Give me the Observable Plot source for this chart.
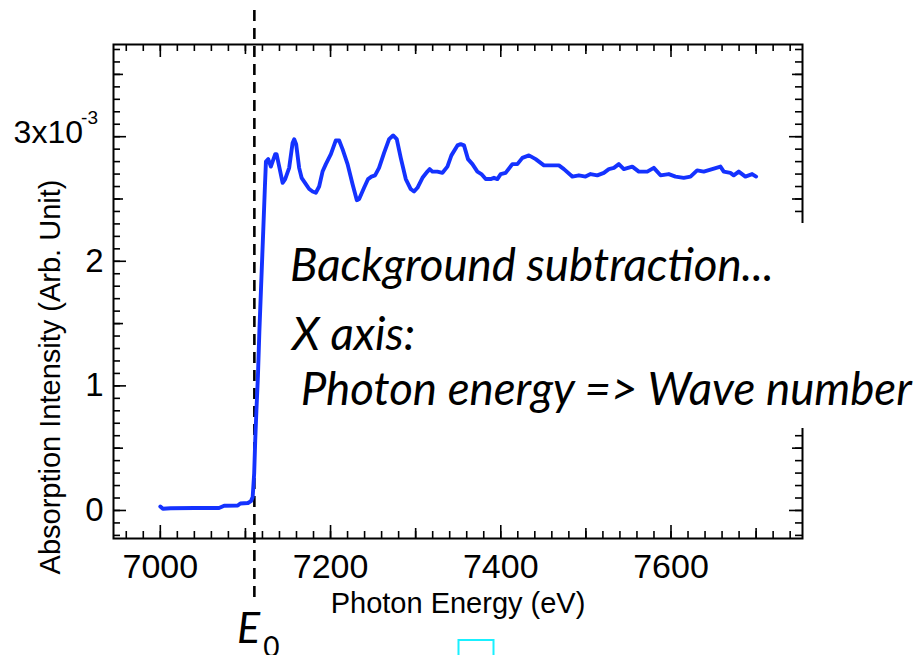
<!DOCTYPE html>
<html>
<head>
<meta charset="utf-8">
<script src="https://cdn.jsdelivr.net/npm/d3@7"></script>
<script src="https://cdn.jsdelivr.net/npm/@observablehq/plot@0.6"></script>
<style>
  html, body { margin: 0; padding: 0; background: #fff; }
  #wrap { position: relative; width: 919px; height: 655px; overflow: hidden; }
  #wrap svg { position: absolute; left: 0; top: 0; }
</style>
</head>
<body>
<div id="wrap"></div>
<script>
// ---------------- data ----------------
const energy = [
  7000, 7003, 7012, 7040, 7069, 7075, 7091, 7094, 7103, 7106.5, 7108.5, 7110.3, 7111.5,
  7112.9, 7114.7, 7116.4, 7118.2, 7120.9, 7122.9, 7124.1, 7126.8, 7129.9, 7135.0, 7136.6,
  7139.7, 7143.7, 7146.7, 7151.4, 7155.4, 7157.3, 7159.6, 7163.1, 7166.0, 7171.0, 7174.9,
  7178.9, 7182.7, 7186.6, 7190.6, 7194.5, 7200.4, 7206.2, 7210.1, 7214.1, 7220.0, 7225.8,
  7230.9, 7233.6, 7239.4, 7244.1, 7248.1, 7252.3, 7257.0, 7262.9, 7268.8, 7273.5, 7277.8,
  7282.5, 7288.4, 7294.2, 7298.1, 7302.1, 7308.0, 7313.8, 7316.5, 7319.7, 7325.6, 7331.5,
  7337.3, 7342.0, 7349.1, 7352.9, 7356.8, 7361.5, 7366.7, 7372.5, 7377.2, 7382.3, 7388.1,
  7392.0, 7396.0, 7399.9, 7405.7, 7413.6, 7419.5, 7425.4, 7433.1, 7441.0, 7450.7, 7458.6,
  7468.3, 7474.2, 7484.0, 7491.8, 7499.6, 7505.5, 7513.4, 7521.1, 7527.0, 7532.9, 7538.7,
  7544.6, 7554.5, 7562.2, 7572.1, 7579.8, 7587.7, 7597.4, 7605.3, 7615.0, 7622.9, 7630.7,
  7638.5, 7648.4, 7658.1, 7662.0, 7669.8, 7673.7, 7679.6, 7687.4, 7695.3, 7700.0
];
// absorption intensity in units of 1e-3
const absorption = [
  0.032, 0.014, 0.018, 0.020, 0.020, 0.038, 0.040, 0.056, 0.060, 0.075, 0.107, 0.30, 0.56,
  0.80, 1.08, 1.44, 1.76, 2.24, 2.60, 2.80, 2.82, 2.76, 2.86, 2.86,
  2.76, 2.63, 2.66, 2.75, 2.95, 2.98, 2.94, 2.75, 2.67, 2.62, 2.58,
  2.56, 2.55, 2.60, 2.72, 2.78, 2.86, 2.97, 2.97, 2.90, 2.78, 2.62,
  2.49, 2.50, 2.59, 2.66, 2.68, 2.69, 2.75, 2.87, 2.98, 3.01, 2.98,
  2.83, 2.66, 2.58, 2.56, 2.59, 2.67, 2.72, 2.74, 2.72, 2.72, 2.71,
  2.76, 2.85, 2.93, 2.94, 2.93, 2.82, 2.78, 2.72, 2.70, 2.66, 2.66,
  2.67, 2.66, 2.70, 2.71, 2.78, 2.78, 2.83, 2.85, 2.82, 2.77, 2.77,
  2.77, 2.74, 2.68, 2.69, 2.68, 2.70, 2.69, 2.71, 2.74, 2.75, 2.78,
  2.74, 2.76, 2.72, 2.72, 2.75, 2.69, 2.70, 2.68, 2.67, 2.68, 2.73,
  2.72, 2.74, 2.76, 2.72, 2.71, 2.69, 2.72, 2.68, 2.70, 2.68
];
const edgeEnergy = [7110.5];           // E0 marker
const xDomain = [6945, 7754.5];
const yDomain = [-0.225, 3.74];
const xTickLabels = [7000, 7200, 7400, 7600];
const xTicksMid = [7100, 7300, 7500, 7700];
const xTicksMinor = d3.range(6960, 7750, 20);
const yTickLabels = [0, 1, 2];
const yTopTick = [3];
const yTicksMajor = [0, 1, 2, 3];
const yTicksMid = [0.5, 1.5, 2.5, 3.5];
const yTicksMinor = d3.range(-0.2, 3.75, 0.1).map(v => Math.round(v * 10) / 10);
const xLabel = "Photon Energy (eV)";
const yLabel = "Absorption Intensity (Arb. Unit)";
const noteLines = ["Background subtraction...", "X axis:", " Photon energy => Wave number"];

// ---------------- layout ----------------
const W = 919, H = 655;
const mL = 113, mR = 117, mT = 44, mB = 117;
const fW = W - mL - mR, fH = H - mT - mB;
const data = energy.map((e, i) => ({e, a: absorption[i]}));
const tickW = 1.6;

function xTicks(values, len) {
  return [
    Plot.tickX(values, {x: d => d, insetBottom: fH - len, stroke: "black", strokeWidth: tickW}),
    Plot.tickX(values, {x: d => d, insetTop: fH - len, stroke: "black", strokeWidth: tickW})
  ];
}
function yTicks(values, len) {
  return [
    Plot.tickY(values, {y: d => d, insetRight: fW - len, stroke: "black", strokeWidth: tickW}),
    Plot.tickY(values, {y: d => d, insetLeft: fW - len, stroke: "black", strokeWidth: tickW})
  ];
}

const chart = Plot.plot({
  width: W, height: H,
  marginLeft: mL, marginRight: mR, marginTop: mT, marginBottom: mB,
  style: {fontFamily: "'Liberation Sans', Arial, Helvetica, sans-serif", background: "transparent", overflow: "visible", color: "black"},
  x: {domain: xDomain},
  y: {domain: yDomain},
  marks: [
    Plot.ruleX(edgeEnergy, {x: d => d, stroke: "black", strokeWidth: 2.6, strokeDasharray: "11,7", insetTop: -34, insetBottom: -60}),
    Plot.line(data, {x: "e", y: "a", stroke: "#1432ff", strokeWidth: 3.9, strokeLinejoin: "round", strokeLinecap: "round"}),
    ...xTicks(xTicksMinor, 7),
    ...xTicks(xTicksMid, 10),
    ...xTicks(xTickLabels, 13),
    ...yTicks(yTicksMinor, 7),
    ...yTicks(yTicksMid, 10),
    ...yTicks(yTicksMajor, 13),
    Plot.frame({stroke: "black", strokeWidth: 2}),
    Plot.axisX({ticks: xTickLabels, tickFormat: d => String(d), anchor: "bottom", tickSize: 0, tickPadding: 15, fontSize: 34, label: null}),
    Plot.axisY({ticks: yTickLabels, tickFormat: d => String(d), anchor: "left", tickSize: 0, tickPadding: 10, fontSize: 33, label: null}),
    Plot.text(yTopTick, {y: d => d, frameAnchor: "left", text: () => "3x10", textAnchor: "end", dx: -30.5, dy: -3.5, lineAnchor: "middle", fontSize: 32}),
    Plot.text(yTopTick, {y: d => d, frameAnchor: "left", text: () => "-3", textAnchor: "end", dx: -15.5, dy: -18.5, lineAnchor: "middle", fontSize: 19}),
    Plot.text([xLabel], {text: d => d, frameAnchor: "bottom", textAnchor: "middle", dy: 65, lineAnchor: "middle", fontSize: 29}),
    Plot.text([yLabel], {text: d => d, frameAnchor: "left", textAnchor: "middle", rotate: -90, dx: -62.5, dy: 85.5, lineAnchor: "middle", fontSize: 29})
  ]
});
const wrap = document.getElementById("wrap");
wrap.appendChild(chart);

// ---------------- annotation overlay ----------------
const ov = d3.select(wrap).append("svg")
  .attr("width", W).attr("height", H)
  .style("font-family", "Lato, 'Open Sans', 'Noto Sans', sans-serif");
ov.append("rect").attr("x", 278).attr("y", 223).attr("width", 641).attr("height", 205).attr("fill", "white");
const noteX = [290, 292, 290], noteY = [281, 350, 405];
const texts = noteLines.map((t, i) => ov.append("text")
  .attr("x", noteX[i]).attr("y", noteY[i])
  .attr("font-style", "italic").attr("font-size", 40)
  .attr("xml:space", "preserve").style("white-space", "pre")
  .text(t));
// fit the long line to the reference width
const w3 = texts[2].node().getComputedTextLength();
const fs = 40 * (912 - 290) / w3;
texts.forEach(t => t.attr("font-size", fs));

const e0 = ov.append("text").attr("x", 237).attr("y", 643);
e0.append("tspan").attr("font-style", "italic").attr("font-size", 43).text("E");
e0.append("tspan").attr("font-size", 28).attr("dy", 14).attr("dx", 3).text("0");
ov.append("rect").attr("x", 458.5).attr("y", 640).attr("width", 35).attr("height", 30)
  .attr("fill", "none").attr("stroke", "#19f0ff").attr("stroke-width", 2);
</script>
</body>
</html>
